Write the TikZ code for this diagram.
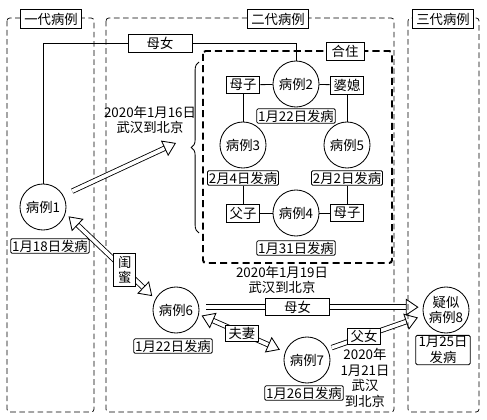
\documentclass[tikz,border=0pt]{standalone}
\usepackage{fontspec}
\setmainfont{Noto Sans CJK SC}
\usetikzlibrary{positioning,arrows.meta,calc,decorations.pathreplacing}

\tikzset{
  case/.style={circle,draw,line width=0.6pt,minimum size=1.15cm,inner sep=0pt,fill=white},
  onset/.style={draw,fill=white,rounded corners=1pt,inner xsep=1pt,inner ysep=0.8pt,line width=0.6pt},
  rel/.style={draw,fill=white,inner xsep=2.5pt,inner ysep=2pt,line width=0.6pt},
  genbox/.style={draw,line width=0.5pt,dash pattern=on 4pt off 2.5pt,rounded corners=2pt},
  genlabel/.style={draw,fill=white,line width=0.7pt,inner xsep=2.5pt,inner ysep=2.5pt},
  bigarrow/.style={double,double distance=2.6pt,line width=0.6pt,-{Triangle[open,length=9pt,width=12pt]}},
  bigboth/.style={bigarrow,{Triangle[open,length=9pt,width=12pt]}-{Triangle[open,length=9pt,width=12pt]}},
}

\begin{document}
\begin{tikzpicture}[x=0.025cm,y=-0.025cm,font=\fontsize{9.5}{11}\selectfont,line width=0.6pt]
  \useasboundingbox (0,0) rectangle (487,420);
  % three generations
  \foreach \i/\l/\r/\c/\t in {1/7/94/51/一代病例,2/106/394/278/二代病例,3/408/479/443/三代病例}{
    \draw[genbox] (\l,18) rectangle (\r,412);
    \node[genlabel] (gen\i) at (\c,19) {\t};
  }
  % living together
  \draw[line width=1.4pt,dash pattern=on 5pt off 3pt,rounded corners=2pt] (203,51) rectangle (392,263);
  \node[rel,inner xsep=4pt] (hz) at (345,51) {合住};

  \node[case] (c1) at (43,207) {病例1};
  \node[onset] (d1) at (50,246) {1月18日发病};
  \node[rel,minimum width=1.6cm] (mn1) at (160,43) {母女};

  \node[case] (c2) at (296,84) {病例2};
  \node[rel] (mz1) at (243,85) {母子};
  \node[rel] (px) at (347,85) {婆媳};
  \node[onset] (d2) at (296,116) {1月22日发病};
  \node[case] (c3) at (243,145) {病例3};
  \node[onset] (d3) at (243,178) {2月4日发病};
  \node[case] (c5) at (347,145) {病例5};
  \node[onset] (d5) at (347,178) {2月2日发病};
  \node[rel] (fz) at (243,213) {父子};
  \node[case] (c4) at (296,213) {病例4};
  \node[rel] (mz2) at (347,213) {母子};
  \node[onset] (d4) at (296,248) {1月31日发病};

  \node[case] (c6) at (176,310) {病例6};
  \node[onset] (d6) at (173,346) {1月22日发病};
  \node[case] (c7) at (307,360) {病例7};
  \node[onset] (d7) at (304,393) {1月26日发病};
  \node[case,align=center] (c8) at (446,310) {疑似\\病例8};
  \node[onset,align=center,inner xsep=2pt] (d8) at (443,350) {1月25日\\发病};

  \node[align=center] (t16) at (150,120) {2020年1月16日\\武汉到北京};
  \node[align=center] (t19) at (282,280) {2020年1月19日\\武汉到北京};
  \node[align=center] (t21) at (365,378) {2020年\\1月21日\\武汉\\到北京};

  % family links
  \draw (c1.north) |- (mn1.west);
  \draw (mn1.east) -| (c2.north);
  \draw (mz1) -- (c2) -- (px);
  \draw (mz1) -- (c3);
  \draw (px) -- (c5);
  \draw (d3) -- (fz) -- (c4) -- (mz2) -- (d5);

  \draw[decorate,decoration={brace,amplitude=5.5pt}] (199,233) -- (199,62);
  \coordinate (bt) at (176,143);

  % transmission
  \draw[bigarrow,shorten <=7pt] (c1.30) -- (bt);
  \draw[bigboth,shorten <=3pt,shorten >=3pt] (c1.-16) -- node[rel,pos=0.66,align=center,inner xsep=3pt] (gm) {闺\\蜜} (c6.152);
  \draw[bigboth,shorten <=2pt,shorten >=4pt] (c6.-11) -- node[rel,pos=0.5,inner ysep=1.5pt] (fq) {夫妻} (c7.160);
  \draw[bigarrow,shorten <=5pt,shorten >=3pt] (c6.7) -- node[rel,pos=0.44,minimum width=1.6cm,inner ysep=1.5pt] (mn2) {母女} (c8.173);
  \draw[bigarrow,shorten <=3pt,shorten >=4pt] (c7.28) -- node[rel,pos=0.38,inner ysep=1pt] (fn) {父女} (c8.194);
\end{tikzpicture}
\end{document}
